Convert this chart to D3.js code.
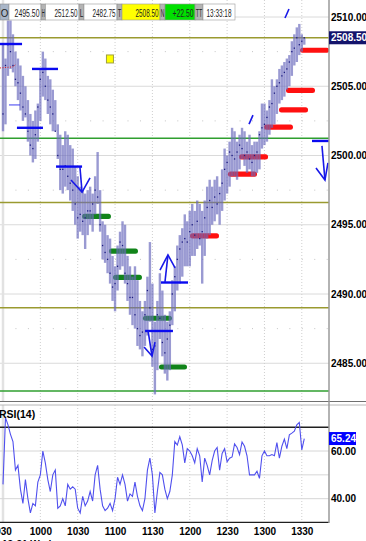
<!DOCTYPE html>
<html>
<head>
<meta charset="utf-8">
<script src="https://cdn.jsdelivr.net/npm/d3@7"></script>
<style>
body { margin: 0; background: #fff; }
svg { display: block; }
text { font-family: "Liberation Sans", Arial, sans-serif; }
</style>
</head>
<body>
<div id="chart"></div>
<script>
// 2-minute bars from 09:30, minutes counted from the open
var barStep = 2;
var barHigh = [2508.0, 2507.0, 2509.75, 2509.75, 2508.75, 2507.5, 2507.0, 2506.5, 2505.75, 2505.0,
  2504.0, 2503.0, 2502.5, 2503.25, 2503.75, 2506.25, 2507.5, 2507.0, 2505.75, 2505.5,
  2504.75, 2504.0, 2502.25, 2501.5, 2500.75, 2501.75, 2501.5, 2500.75, 2500.5, 2499.25,
  2498.5, 2497.75, 2497.5, 2497.25, 2497.5, 2497.75, 2497.25, 2498.5, 2500.25, 2497.5,
  2495.25, 2495.0, 2494.25, 2494.0, 2492.75, 2492.0, 2493.5, 2494.5, 2495.25, 2495.0,
  2492.75, 2492.0, 2491.25, 2492.0, 2491.0, 2489.5, 2488.75, 2489.5, 2491.25, 2493.75,
  2490.75, 2488.0, 2489.5, 2491.5, 2490.25, 2488.5, 2488.0, 2488.75, 2491.0, 2492.0,
  2493.5, 2494.25, 2494.75, 2495.75, 2495.25, 2496.0, 2496.5, 2496.0, 2496.75, 2496.5,
  2496.0, 2496.75, 2497.75, 2498.25, 2497.75, 2498.25, 2498.5, 2497.75, 2499.0, 2500.5,
  2500.0, 2501.0, 2502.0, 2501.75, 2501.0, 2501.5, 2502.0, 2501.75, 2501.0, 2501.5,
  2500.75, 2501.0, 2501.0, 2501.75, 2503.75, 2503.75, 2503.25, 2504.0, 2505.5, 2505.0,
  2505.5, 2506.25, 2506.5, 2506.75, 2507.0, 2507.25, 2508.25, 2508.75, 2509.25, 2509.5,
  2508.75, 2508.5];
var barLow = [2501.75, 2502.25, 2505.75, 2506.25, 2506.0, 2505.0, 2504.0, 2503.25, 2502.5, 2502.75,
  2501.0, 2500.0, 2499.5, 2499.75, 2501.0, 2502.5, 2504.25, 2504.0, 2503.0, 2502.25,
  2501.75, 2501.75, 2499.75, 2497.5, 2497.25, 2497.75, 2497.5, 2496.75, 2496.0, 2495.0,
  2494.0, 2494.5, 2494.25, 2493.25, 2494.25, 2495.0, 2494.5, 2495.75, 2496.5, 2494.5,
  2492.5, 2492.25, 2491.5, 2490.75, 2489.5, 2488.75, 2490.25, 2491.75, 2492.0, 2490.75,
  2489.5, 2488.5, 2487.75, 2487.5, 2486.25, 2486.0, 2485.5, 2486.25, 2487.0, 2488.0,
  2484.75, 2482.75, 2484.5, 2486.75, 2485.5, 2484.25, 2483.75, 2484.5, 2487.75, 2488.75,
  2490.25, 2490.75, 2491.25, 2492.0, 2492.0, 2492.0, 2492.75, 2492.75, 2493.25, 2493.5,
  2490.75, 2492.75, 2494.0, 2494.25, 2495.0, 2495.25, 2495.75, 2495.0, 2496.0, 2496.75,
  2497.25, 2497.75, 2498.5, 2498.5, 2498.25, 2499.0, 2499.75, 2499.25, 2498.75, 2499.0,
  2498.5, 2498.5, 2498.75, 2499.0, 2500.5, 2500.75, 2501.0, 2501.5, 2502.0, 2502.25,
  2503.0, 2503.75, 2504.0, 2504.25, 2504.75, 2505.0, 2505.75, 2506.5, 2506.75, 2507.25,
  2507.5, 2508.0];
var barClose = [2503.0, 2506.5, 2508.0, 2507.5, 2506.5, 2505.5, 2505.25, 2504.5, 2503.5, 2503.0,
  2501.75, 2500.75, 2500.5, 2501.5, 2503.5, 2505.5, 2506.0, 2505.0, 2504.0, 2503.5,
  2503.0, 2501.75, 2500.0, 2499.0, 2499.0, 2499.25, 2498.5, 2498.0, 2497.5, 2496.5,
  2495.5, 2495.75, 2495.25, 2495.5, 2496.0, 2496.0, 2496.5, 2497.5, 2497.0, 2495.0,
  2493.5, 2493.0, 2492.5, 2491.5, 2490.5, 2490.75, 2492.0, 2493.75, 2493.5, 2491.5,
  2490.75, 2489.75, 2489.75, 2488.5, 2487.5, 2487.0, 2487.25, 2488.5, 2490.25, 2489.0,
  2486.0, 2486.25, 2488.5, 2488.25, 2486.5, 2485.75, 2486.75, 2487.75, 2490.0, 2491.25,
  2492.5, 2493.25, 2493.75, 2494.0, 2493.75, 2494.5, 2495.0, 2494.25, 2495.25, 2494.0,
  2494.5, 2495.5, 2496.25, 2496.75, 2496.25, 2497.0, 2496.5, 2497.25, 2498.0, 2499.0,
  2499.5, 2500.25, 2500.0, 2499.75, 2500.25, 2500.75, 2500.5, 2500.0, 2500.25, 2499.75,
  2499.5, 2500.0, 2500.25, 2501.5, 2502.0, 2502.25, 2502.75, 2503.5, 2503.75, 2504.5,
  2505.0, 2505.25, 2505.75, 2506.0, 2506.25, 2506.75, 2507.5, 2507.75, 2508.5, 2508.0,
  2508.25, 2508.5];
var rsi = [46, 74, 71, 67, 64, 52, 54, 44, 38, 48,
  40, 34, 38, 37, 47, 50, 60, 55, 48, 43,
  50, 52, 36, 37, 40, 37, 46, 44, 45, 44,
  36, 34, 41, 37, 39, 43, 39, 50, 54, 44,
  37, 35, 36, 38, 35, 40, 49, 46, 50, 46,
  39, 42, 41, 47, 41, 37, 35, 40, 52, 57,
  50, 34, 43, 51, 50, 44, 40, 43, 50, 64,
  62.5, 66, 62.6, 55, 61, 60, 58, 55, 61, 58,
  47, 57, 54, 50, 56, 60, 61.5, 52, 59, 61,
  55.5, 57, 57.5, 63, 61.5, 58.5, 63.8, 62, 58, 50,
  50, 50, 51.5, 48.5, 58, 60, 58, 58, 58.5, 58,
  63.5, 57, 62, 65, 61, 66.8, 67.5, 68.3, 71, 72,
  60.5, 65.24];

// axis ticks
var priceTicks = [2485, 2490, 2495, 2500, 2505, 2510];
var priceMinor = [2487.5, 2492.5, 2497.5, 2502.5, 2507.5];
var timeTicks = [0, 30, 60, 90, 120, 150, 180, 210, 240];
var timeLabels = ["930", "1000", "1030", "1100", "1130", "1200", "1230", "1300", "1330"];
var rsiTicks = [40, 60];
var rsiGrid = [40, 50, 60];
var rsiBands = [30, 70];
var lastPrice = 2508.50;
var lastRsi = 65.24;

// quote strip
var infoLabels = ["O", "H", "L", "T", "N", "TT"];
var infoValues = ["2495.50", "2512.50", "2482.75", "2508.50", "+22.50", "13:33:18"];

// horizontal levels
var oliveLevels = [2508.5, 2496.6, 2489.0];
var greenLevels = [2501.25, 2483.0];

// drawn segments: start minute, end minute, price
var redStart = [238.6, 227.3, 221.7, 209.6, 189.6, 180.7, 150.2];
var redEnd = [262, 250.6, 245.0, 232.9, 212.9, 204.0, 173.5];
var redPrice = [2507.6, 2504.7, 2503.3, 2502.05, 2499.9, 2498.65, 2494.2];
var greenStart = [63.5, 85.1, 88.4, 112.4, 125.3];
var greenEnd = [86.7, 108.4, 111.6, 135.7, 147.8];
var greenPrice = [2495.6, 2493.1, 2491.2, 2488.25, 2484.73];
var blueStart = [-2.4, 23.3, 11.2, 42.6, 114.1, 126.9, 248.2];
var blueEnd = [15.3, 44.2, 32.1, 63.5, 136.5, 148.6, 262.6];
var bluePrice = [2508.05, 2506.25, 2502.0, 2499.2, 2487.33, 2490.83, 2501.05];

// arrows and strokes as [minute, price] points
var arrows = [
  [[61.8, 2499.17], [63.5, 2497.36]], [[54.6, 2498.23], [63.5, 2497.36], [69.9, 2498.38]],
  [[116.5, 2487.33], [119.7, 2485.52]], [[113.3, 2486.17], [119.7, 2485.52], [122.1, 2486.53]],
  [[130.1, 2490.87], [132.5, 2492.82]], [[126.1, 2491.73], [132.5, 2492.82], [138.2, 2491.88]],
  [[256.2, 2500.69], [258.6, 2498.23]], [[251.4, 2499.10], [258.6, 2498.23], [261.0, 2499.46]],
  [[226.5, 2509.93], [229.7, 2510.58]],
  [[197.6, 2502.27], [200.8, 2502.92]]
];
var thinBlue = [[4.8, 2503.65], [13.7, 2503.65]];
var redDotted = [[-2.4, 2506.32], [8, 2506.4], [10.5, 2506.6]];
var marker = [85.9, 2506.97];

var W = 366, H = 541, plotRight = 329;

var svg = d3.select("#chart").append("svg")
  .attr("width", W).attr("height", H);

var x = d3.scaleLinear().domain([0, 240]).range([3, 301.8]);
var y = d3.scaleLinear().domain([2485, 2510]).range([363.25, 17]);
var yr = d3.scaleLinear().domain([30, 70]).range([522.5, 427.2]);

var defs = svg.append("defs");
defs.append("clipPath").attr("id", "pclip").append("rect")
  .attr("x", 0).attr("y", 0).attr("width", plotRight).attr("height", 401);
defs.append("clipPath").attr("id", "rclip").append("rect")
  .attr("x", 0).attr("y", 405).attr("width", plotRight).attr("height", 118);

var pg = svg.append("g").attr("clip-path", "url(#pclip)");
var rg = svg.append("g").attr("clip-path", "url(#rclip)");

// price grid
pg.selectAll(".gmaj").data(priceTicks).enter().append("line")
  .attr("x1", 0).attr("x2", plotRight)
  .attr("y1", d => y(d)).attr("y2", d => y(d))
  .attr("stroke", "#dadada").attr("stroke-width", 1);
pg.selectAll(".gmin").data(priceMinor).enter().append("line")
  .attr("x1", x(0)).attr("x2", plotRight)
  .attr("y1", d => y(d)).attr("y2", d => y(d))
  .attr("stroke", "#c4c4c4").attr("stroke-width", 1)
  .attr("stroke-dasharray", "1," + (x(10) - x(0) - 1));

[pg, rg].forEach(function(g, k) {
  var top = k == 0 ? 0 : 405, bot = k == 0 ? 401 : 523;
  g.selectAll(".vg").data(timeTicks).enter().append("line")
    .attr("x1", d => x(d)).attr("x2", d => x(d))
    .attr("y1", top).attr("y2", bot)
    .attr("stroke", d => d == 0 ? "#e2e2e2" : "#cfcfcf")
    .attr("stroke-width", d => d == 0 ? 2.5 : 1)
    .attr("stroke-dasharray", d => d == 0 ? null : "1,2");
});

// level lines
pg.selectAll(".olive").data(oliveLevels).enter().append("line")
  .attr("x1", 0).attr("x2", plotRight)
  .attr("y1", d => y(d)).attr("y2", d => y(d))
  .attr("stroke", "#9a9a30").attr("stroke-width", 1.5);
pg.selectAll(".greenl").data(greenLevels).enter().append("line")
  .attr("x1", 0).attr("x2", plotRight)
  .attr("y1", d => y(d)).attr("y2", d => y(d))
  .attr("stroke", "#2f9f2f").attr("stroke-width", 1.5);

// thick red / green marks under the bars
function thickBars(starts, ends, prices, color) {
  pg.append("g").selectAll("rect").data(prices).enter().append("rect")
    .attr("x", (d, i) => x(starts[i]))
    .attr("width", (d, i) => x(ends[i]) - x(starts[i]))
    .attr("y", d => y(d) - 2.6).attr("height", 5.2)
    .attr("rx", 2.5)
    .attr("fill", color);
}
thickBars(redStart, redEnd, redPrice, "#ff1010");
thickBars(greenStart, greenEnd, greenPrice, "#11841a");

// price bars
var bars = pg.append("g");
bars.selectAll("rect.bar").data(barHigh).enter().append("rect")
  .attr("class", "bar")
  .attr("x", (d, i) => x(i * barStep) - 1.2).attr("width", 2.4)
  .attr("y", d => y(d)).attr("height", (d, i) => y(barLow[i]) - y(d))
  .attr("fill", "#6a6abd").attr("fill-opacity", 0.68);
bars.selectAll("rect.close").data(barClose).enter().append("rect")
  .attr("class", "close")
  .attr("x", (d, i) => x(i * barStep) - 0.65).attr("y", d => y(d) - 0.65)
  .attr("width", 1.3).attr("height", 1.3)
  .attr("fill", "#1c1c80");

// blue segments and arrows on top
pg.append("g").selectAll("line").data(bluePrice).enter().append("line")
  .attr("x1", (d, i) => x(blueStart[i])).attr("x2", (d, i) => x(blueEnd[i]))
  .attr("y1", d => y(d)).attr("y2", d => y(d))
  .attr("stroke", "#0a0af0").attr("stroke-width", 2.4);

var pline = d3.line().x(d => x(d[0])).y(d => y(d[1]));
pg.append("g").selectAll("path").data(arrows).enter().append("path")
  .attr("d", pline).attr("fill", "none")
  .attr("stroke", "#1818e8").attr("stroke-width", 1.6);
pg.append("path").attr("d", pline(thinBlue)).attr("fill", "none")
  .attr("stroke", "#3b3bf0").attr("stroke-width", 1);
pg.append("path").attr("d", pline(redDotted)).attr("fill", "none")
  .attr("stroke", "#e02020").attr("stroke-width", 1).attr("stroke-dasharray", "1,1.5");
pg.append("rect")
  .attr("x", x(marker[0]) - 3.5).attr("y", y(marker[1]) - 4)
  .attr("width", 7).attr("height", 8)
  .attr("fill", "#ffff00").attr("stroke", "#a0a040").attr("stroke-width", 1);

// RSI panel
rg.selectAll(".rgrid").data(rsiGrid).enter().append("line")
  .attr("x1", 0).attr("x2", plotRight)
  .attr("y1", d => yr(d)).attr("y2", d => yr(d))
  .attr("stroke", "#d6d6d6");
rg.selectAll(".rband").data(rsiBands).enter().append("line")
  .attr("x1", 0).attr("x2", plotRight)
  .attr("y1", d => yr(d)).attr("y2", d => yr(d))
  .attr("stroke", "#202020").attr("stroke-width", 1.4);
rg.append("path").datum(rsi)
  .attr("d", d3.line().x((d, i) => x(i * barStep)).y(d => yr(d)))
  .attr("fill", "none").attr("stroke", "#5050ee").attr("stroke-width", 1.1);

svg.append("text").attr("x", -1).attr("y", 418)
  .attr("font-size", 10.5).attr("font-weight", "bold").text("RSI(14)");

// panel frames
svg.append("line").attr("x1", 0).attr("x2", W).attr("y1", 401.5).attr("y2", 401.5)
  .attr("stroke", "#707070");
svg.append("line").attr("x1", 0).attr("x2", W).attr("y1", 405).attr("y2", 405)
  .attr("stroke", "#b8b8b8");
svg.append("line").attr("x1", plotRight).attr("x2", plotRight).attr("y1", 0).attr("y2", 523)
  .attr("stroke", "#9a9a9a").attr("stroke-width", 1.5);

// right axes
var pAxis = svg.append("g").attr("transform", "translate(" + plotRight + ",0)")
  .call(d3.axisRight(y).tickValues(priceTicks).tickFormat(d3.format(".2f")).tickSize(0).tickPadding(2));
var rAxis = svg.append("g").attr("transform", "translate(" + plotRight + ",0)")
  .call(d3.axisRight(yr).tickValues(rsiTicks).tickFormat(d3.format(".2f")).tickSize(0).tickPadding(2));
[pAxis, rAxis].forEach(function(a) {
  a.select(".domain").remove();
  a.selectAll("text").attr("font-family", "Liberation Sans, Arial, sans-serif")
    .attr("font-size", 10).attr("font-weight", "bold").attr("fill", "#000");
});

function valueTag(scale, v, fill, w) {
  svg.append("rect").attr("x", plotRight).attr("y", scale(v) - 6.5)
    .attr("width", w).attr("height", 13).attr("fill", fill);
  svg.append("text").attr("x", plotRight + 2).attr("y", scale(v)).attr("dy", "0.35em")
    .attr("font-size", 10).attr("font-weight", "bold").attr("fill", "#fff")
    .text(d3.format(".2f")(v));
}
valueTag(y, lastPrice, "#13136b", 37);
valueTag(yr, lastRsi, "#0000ff", 27);

// time axis
var xAxis = svg.append("g").attr("transform", "translate(0,524)")
  .call(d3.axisBottom(x).tickValues(timeTicks).tickFormat((d, i) => timeLabels[i]).tickSize(0).tickPadding(4));
xAxis.select(".domain").remove();
xAxis.selectAll("text").attr("font-family", "Liberation Sans, Arial, sans-serif")
  .attr("font-size", 10).attr("font-weight", "bold").attr("fill", "#000");
svg.append("text").attr("x", 2).attr("y", 548)
  .attr("font-size", 10).attr("font-weight", "bold").text("12-31 Wed");

// quote strip (squeezed text, like the original)
var labelX = [0, 41, 79, 117, 160, 195];
var labelW = [9, 4.5, 5, 5, 5, 8];
var valueW = [32, 33.5, 33, 38, 30, 32];
var valueFill = ["#ffffff", "#ffffff", "#ffffff", "#ffff00", "#00e000", "#ffffff"];
var valueTextW = [25, 23, 23, 23, 21, 25];
var strip = svg.append("g");
infoLabels.forEach(function(lab, i) {
  var lx = labelX[i], vx = lx + labelW[i];
  strip.append("rect").attr("x", lx).attr("y", 4).attr("width", labelW[i]).attr("height", 16)
    .attr("fill", i == 0 ? "#a9b6c8" : "#b4b4b4").attr("stroke", "#8a8a8a").attr("stroke-width", 0.6);
  strip.append("rect").attr("x", vx).attr("y", 4).attr("width", valueW[i]).attr("height", 16)
    .attr("fill", valueFill[i]).attr("stroke", "#9a9a9a").attr("stroke-width", 0.6);
});
function squeezed(str, cx, anchor, target) {
  var t = strip.append("text").attr("font-size", 11).attr("fill", "#222")
    .attr("text-anchor", anchor).text(str);
  var s = target / t.node().getComputedTextLength();
  t.attr("transform", "translate(" + cx + ",16.5) scale(" + s + ",1)");
}
infoLabels.forEach(function(lab, i) {
  var lx = labelX[i], vx = lx + labelW[i];
  squeezed(lab, lx + labelW[i] / 2, "middle", labelW[i] - 1.4);
  if (i == 5) squeezed(infoValues[i], vx + valueW[i] / 2, "middle", valueTextW[i]);
  else squeezed(infoValues[i], vx + valueW[i] - 1.5, "end", valueTextW[i]);
});
</script>
</body>
</html>
